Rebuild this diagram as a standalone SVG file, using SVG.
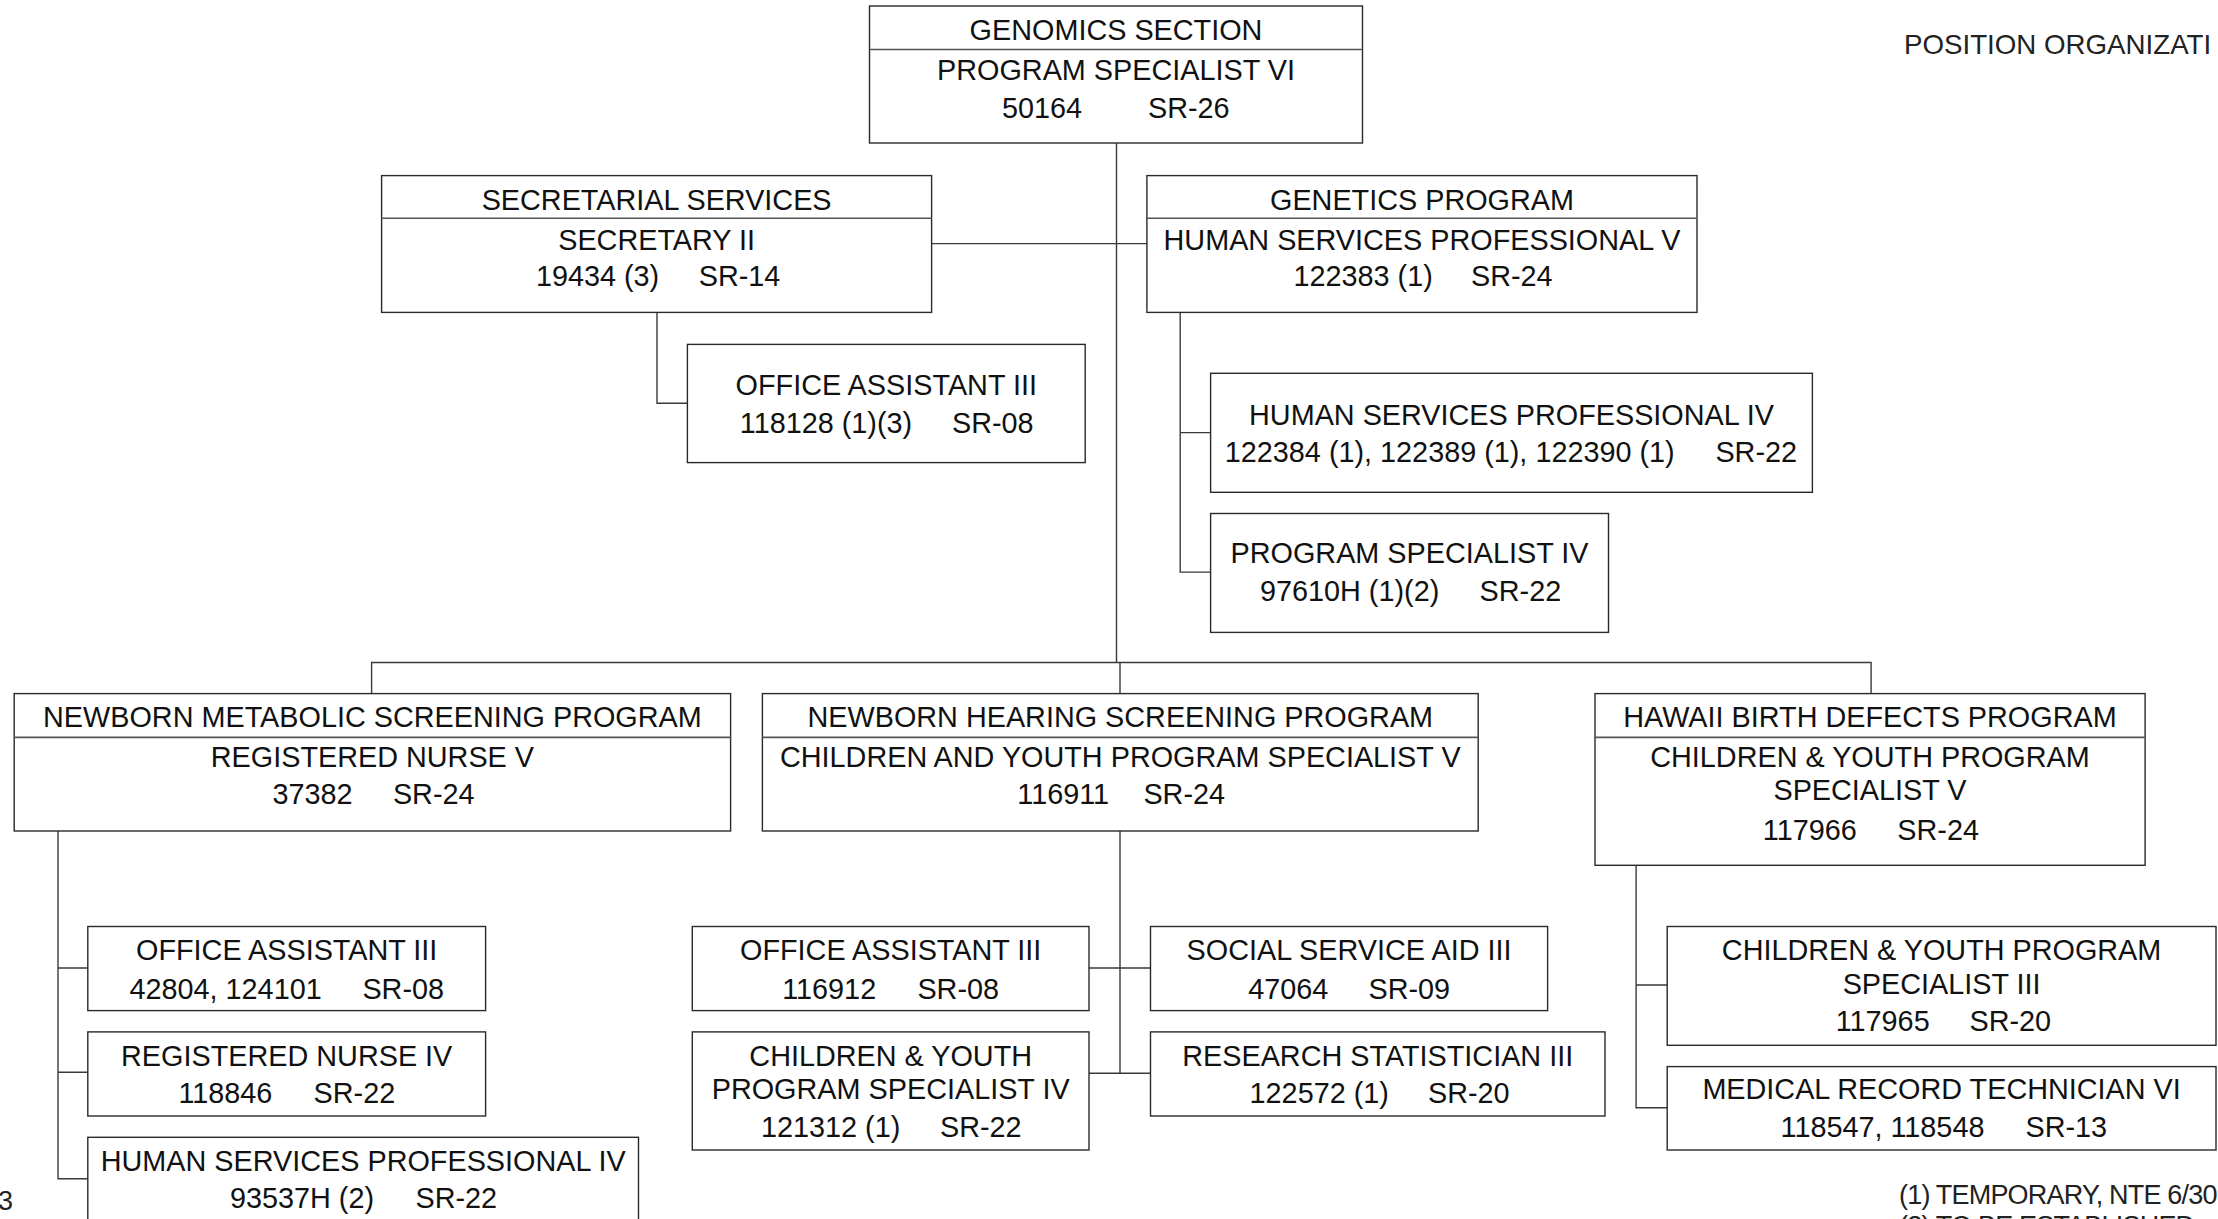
<svg xmlns="http://www.w3.org/2000/svg" width="2218" height="1219" viewBox="0 0 2218 1219">
<style>
  .box { fill: #ffffff; stroke: #2a2a2a; stroke-width: 1.4; }
  .div { stroke: #555555; stroke-width: 1.6; fill: none; }
  .con { stroke: #3a3a3a; stroke-width: 1.4; fill: none; }
  text { font-family: "Liberation Sans", Arial, sans-serif; font-size: 28.8px; fill: #111111; }
  .c { text-anchor: middle; }
  .note { font-size: 27px; letter-spacing: -0.8px; fill: #222222; }
  .title { font-size: 27.7px; fill: #222222; }
</style>
<rect x="0" y="0" width="2218" height="1219" fill="#ffffff"/>

<g id="connectors">
  <path class="con" d="M1116.5,143 V662.5"/>
  <path class="con" d="M931.6,243.6 H1146.9"/>
  <path class="con" d="M657,312.4 V403.3 H687.4"/>
  <path class="con" d="M1180.2,312.4 V572.1 H1210.6 M1180.2,432.6 H1210.6"/>
  <path class="con" d="M371.6,693.6 V662.5 H1871.1 V693.6 M1120,662.5 V693.6"/>
  <path class="con" d="M58,831 V1178.8 H87.8 M58,968 H87.8 M58,1072.2 H87.8"/>
  <path class="con" d="M1120,831 V1073.3 M1089,968 H1150.5 M1089,1073.3 H1150.5"/>
  <path class="con" d="M1636.1,865.3 V1107.7 H1667.2 M1636.1,985 H1667.2"/>
</g>

<g id="genomics">
  <rect class="box" x="869.5" y="6" width="493" height="137"/>
  <line class="div" x1="869.5" y1="49.5" x2="1362.5" y2="49.5"/>
  <text class="c" x="1116" y="39.5">GENOMICS SECTION</text>
  <text class="c" x="1116" y="80.3">PROGRAM SPECIALIST VI</text>
  <text x="1002" y="117.8">50164 <tspan x="1148">SR-26</tspan></text>
</g>

<g id="secretarial">
  <rect class="box" x="381.6" y="175.6" width="550" height="136.8"/>
  <line class="div" x1="381.6" y1="218.3" x2="931.6" y2="218.3"/>
  <text class="c" x="656.6" y="209.6">SECRETARIAL SERVICES</text>
  <text class="c" x="656.6" y="249.9">SECRETARY II</text>
  <text x="535.9" y="285.5">19434 (3) <tspan x="698.7">SR-14</tspan></text>
</g>

<g id="genetics">
  <rect class="box" x="1146.9" y="175.6" width="550.1" height="136.8"/>
  <line class="div" x1="1146.9" y1="218.3" x2="1697" y2="218.3"/>
  <text class="c" x="1422" y="209.6">GENETICS PROGRAM</text>
  <text class="c" x="1422" y="249.9">HUMAN SERVICES PROFESSIONAL V</text>
  <text x="1293.5" y="285.5">122383 (1) <tspan x="1471">SR-24</tspan></text>
</g>

<g id="office-assistant-sec">
  <rect class="box" x="687.4" y="344.4" width="397.8" height="118.2"/>
  <text class="c" x="886.3" y="395.4">OFFICE ASSISTANT III</text>
  <text x="739.8" y="433">118128 (1)(3) <tspan x="952">SR-08</tspan></text>
</g>

<g id="hsp4-genetics">
  <rect class="box" x="1210.6" y="373.3" width="601.8" height="119"/>
  <text class="c" x="1511.5" y="425">HUMAN SERVICES PROFESSIONAL IV</text>
  <text x="1224.8" y="461.8">122384 (1), 122389 (1), 122390 (1) <tspan x="1715.4">SR-22</tspan></text>
</g>

<g id="program-specialist-iv">
  <rect class="box" x="1210.6" y="513.5" width="397.9" height="118.9"/>
  <text class="c" x="1409.5" y="563.4">PROGRAM SPECIALIST IV</text>
  <text x="1260" y="601">97610H (1)(2) <tspan x="1479.6">SR-22</tspan></text>
</g>

<g id="nmsp">
  <rect class="box" x="14.2" y="693.6" width="716.4" height="137.4"/>
  <line class="div" x1="14.2" y1="737.4" x2="730.6" y2="737.4"/>
  <text class="c" x="372.4" y="727.1">NEWBORN METABOLIC SCREENING PROGRAM</text>
  <text class="c" x="372.4" y="766.6">REGISTERED NURSE V</text>
  <text x="272.5" y="804.1">37382 <tspan x="392.9">SR-24</tspan></text>
</g>

<g id="nhsp">
  <rect class="box" x="762.4" y="693.6" width="715.8" height="137.4"/>
  <line class="div" x1="762.4" y1="737.4" x2="1478.2" y2="737.4"/>
  <text class="c" x="1120.3" y="727.1">NEWBORN HEARING SCREENING PROGRAM</text>
  <text class="c" x="1120.3" y="766.6">CHILDREN AND YOUTH PROGRAM SPECIALIST V</text>
  <text x="1017.3" y="804.1">116911 <tspan x="1143.4">SR-24</tspan></text>
</g>

<g id="hbdp">
  <rect class="box" x="1595" y="693.6" width="550.1" height="171.7"/>
  <line class="div" x1="1595" y1="737.4" x2="2145.1" y2="737.4"/>
  <text class="c" x="1870" y="727.1">HAWAII BIRTH DEFECTS PROGRAM</text>
  <text class="c" x="1870" y="766.6">CHILDREN &amp; YOUTH PROGRAM</text>
  <text class="c" x="1870" y="800.2">SPECIALIST V</text>
  <text x="1762.8" y="839.6">117966 <tspan x="1897.3">SR-24</tspan></text>
</g>

<g id="office-assistant-nm">
  <rect class="box" x="87.8" y="926.5" width="397.8" height="84.1"/>
  <text class="c" x="286.7" y="960">OFFICE ASSISTANT III</text>
  <text x="129.5" y="998.7">42804, 124101 <tspan x="362.4">SR-08</tspan></text>
</g>

<g id="registered-nurse-iv">
  <rect class="box" x="87.8" y="1031.9" width="397.8" height="84.1"/>
  <text class="c" x="286.7" y="1065.9">REGISTERED NURSE IV</text>
  <text x="178.4" y="1103.4">118846 <tspan x="313.6">SR-22</tspan></text>
</g>

<g id="hsp4-nm">
  <rect class="box" x="87.8" y="1137.3" width="550.7" height="110"/>
  <text class="c" x="363.2" y="1170.5">HUMAN SERVICES PROFESSIONAL IV</text>
  <text x="230" y="1208">93537H (2) <tspan x="415.5">SR-22</tspan></text>
</g>

<g id="office-assistant-nh">
  <rect class="box" x="692.3" y="926.5" width="396.7" height="84.1"/>
  <text class="c" x="890.7" y="960">OFFICE ASSISTANT III</text>
  <text x="782.2" y="998.7">116912 <tspan x="917.4">SR-08</tspan></text>
</g>

<g id="social-service-aid">
  <rect class="box" x="1150.5" y="926.5" width="397.1" height="84.1"/>
  <text class="c" x="1349" y="960">SOCIAL SERVICE AID III</text>
  <text x="1248.2" y="998.7">47064 <tspan x="1368.5">SR-09</tspan></text>
</g>

<g id="cyps-iv">
  <rect class="box" x="692.3" y="1031.9" width="396.7" height="118.1"/>
  <text class="c" x="890.7" y="1065.9">CHILDREN &amp; YOUTH</text>
  <text class="c" x="890.7" y="1099.4">PROGRAM SPECIALIST IV</text>
  <text x="761" y="1137">121312 (1) <tspan x="940">SR-22</tspan></text>
</g>

<g id="research-statistician">
  <rect class="box" x="1150.5" y="1031.9" width="454.5" height="84.1"/>
  <text class="c" x="1377.7" y="1065.9">RESEARCH STATISTICIAN III</text>
  <text x="1249.6" y="1103.4">122572 (1) <tspan x="1428">SR-20</tspan></text>
</g>

<g id="cyps-iii">
  <rect class="box" x="1667.2" y="926.5" width="548.8" height="118.8"/>
  <text class="c" x="1941.6" y="960">CHILDREN &amp; YOUTH PROGRAM</text>
  <text class="c" x="1941.6" y="993.6">SPECIALIST III</text>
  <text x="1835.7" y="1031.1">117965 <tspan x="1969.5">SR-20</tspan></text>
</g>

<g id="medical-record-tech">
  <rect class="box" x="1667.2" y="1066.6" width="548.8" height="83.4"/>
  <text class="c" x="1941.6" y="1099.4">MEDICAL RECORD TECHNICIAN VI</text>
  <text x="1780.5" y="1137">118547, 118548 <tspan x="2025.5">SR-13</tspan></text>
</g>

<g id="annotations">
  <text class="title" x="1904" y="54">POSITION ORGANIZATI</text>
  <text class="note" x="1899" y="1203.5">(1) TEMPORARY, NTE 6/30</text>
  <text class="note" x="1899" y="1235">(2) TO BE ESTABLISHED</text>
  <text class="note" x="-2" y="1210">3</text>
</g>
</svg>
